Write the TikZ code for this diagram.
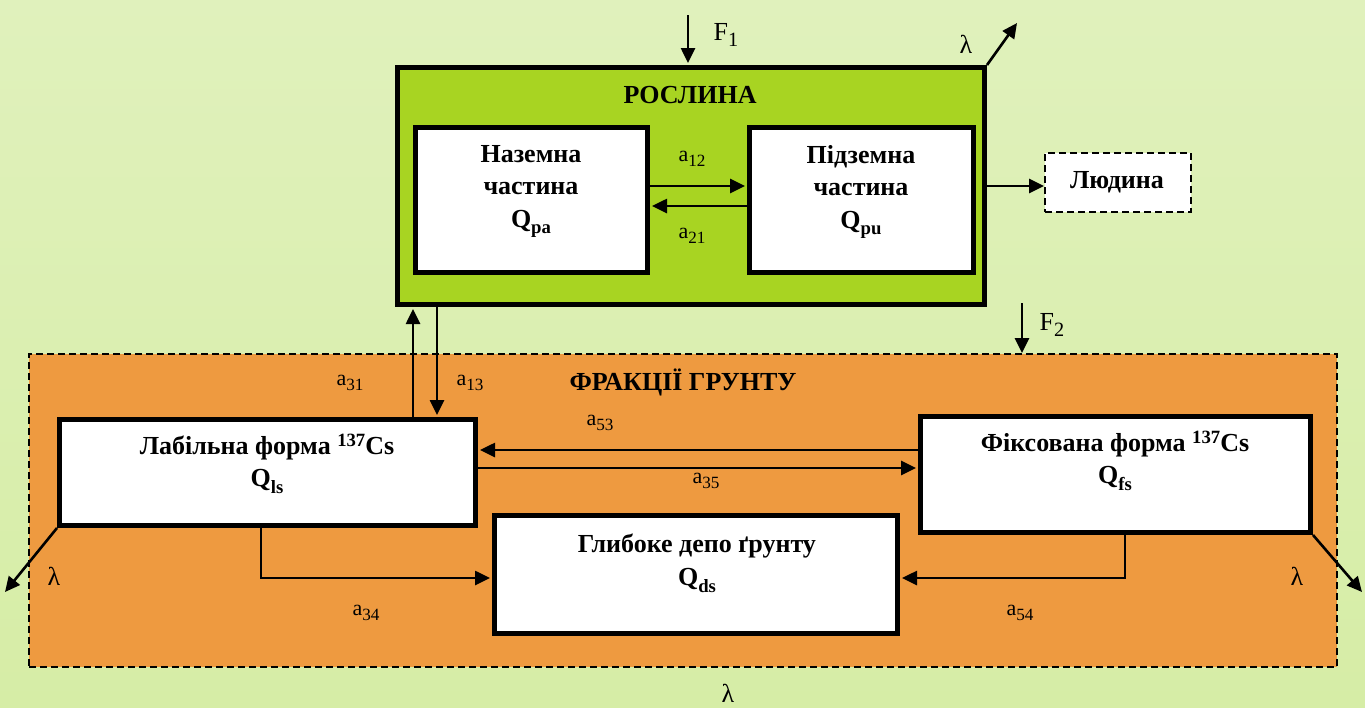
\documentclass[tikz,border=0pt]{standalone}
\usepackage{fontspec}
\setmainfont{Liberation Serif}
\usetikzlibrary{arrows.meta}
\definecolor{bgtop}{RGB}{224,241,188}
\definecolor{bgbot}{RGB}{214,237,166}
\definecolor{plantgreen}{RGB}{168,212,34}
\definecolor{soilorange}{RGB}{238,154,64}
\newcommand{\dn}[1]{\raisebox{-0.22em}{\scalebox{0.78}{#1}}}
\newcommand{\qdn}[1]{\raisebox{-0.25em}{\scalebox{0.72}{#1}}}
\newcommand{\up}[1]{\raisebox{0.32em}{\scalebox{0.72}{#1}}}
\begin{document}
\begin{tikzpicture}[x=1pt,y=-1pt,
  box/.style={draw, line width=5pt, fill=white, inner sep=0pt},
  dbox/.style={draw, dash pattern=on 7pt off 4pt, line width=1.8pt, inner sep=0pt},
  arr/.style={line width=2.6pt, -{Triangle[length=15pt,width=14pt]}},
  ttl/.style={font=\bfseries\fontsize{26}{32.5}\selectfont, align=center, inner sep=0pt},
  lbl/.style={font=\fontsize{22}{24}\selectfont, inner sep=0pt},
  big/.style={font=\fontsize{26}{28}\selectfont, inner sep=0pt}]
\useasboundingbox (0,0) rectangle (1365,707);
\shade[top color=bgtop, bottom color=bgbot] (0,0) rectangle (1365,707);

% plant
\node[box, fill=plantgreen, minimum width=587pt, minimum height=237pt] (plant) at (691,186) {};
\node[ttl, anchor=base] (plantt) at (690,103) {РОСЛИНА};
\node[box, minimum width=232pt, minimum height=145pt] (pa) at (531.5,200) {};
\node[box, minimum width=224pt, minimum height=145pt] (pu) at (861.5,200) {};
\node[ttl, anchor=north] (pat) at (531,145) {Наземна\\частина\\Q\qdn{pa}};
\node[ttl, anchor=north] (put) at (861,145) {Підземна\\частина\\Q\qdn{pu}};

\draw[arr, shorten >=2pt] ([yshift=14pt]pa.east) -- ([yshift=14pt]pu.west);
\draw[arr, shorten >=2pt] ([yshift=-6pt]pu.west) -- ([yshift=-6pt]pa.east);
\node[lbl] (l12) at (692,159) {a\dn{12}};
\node[lbl] (l21) at (692,236) {a\dn{21}};

% F1 and lambda
\coordinate (f1) at (688,15);
\draw[arr, shorten >=2pt] (f1) -- (f1 |- plant.north);
\node[big] (lf1) at (726,35) {F\dn{1}};
\coordinate (lam1) at (1017,23);
\draw[arr] (plant.north east) -- (lam1);
\node[big] (ll1) at (966,44) {λ};

% human
\node[dbox, fill=white, minimum width=146pt, minimum height=59pt] (lud) at (1118,182.5) {};
\node[ttl, anchor=base] (ludt) at (1117,188) {Людина};
\draw[arr] (plant.east) -- (plant.east -| lud.west);

% soil
\node[dbox, fill=soilorange, minimum width=1308pt, minimum height=313pt] (soil) at (683,510.5) {};
\node[ttl, anchor=base] (soilt) at (683,390) {ФРАКЦІЇ ГРУНТУ};
\coordinate (f2) at (1022,303);
\draw[arr] (f2) -- (f2 |- soil.north);
\node[big] (lf2) at (1052,325) {F\dn{2}};

\node[box, minimum width=416pt, minimum height=106pt] (lab) at (267.5,472.5) {};
\node[box, minimum width=390pt, minimum height=116pt] (fix) at (1115.5,474.5) {};
\node[box, minimum width=403pt, minimum height=118pt] (deep) at (696,574.5) {};
\node[ttl, anchor=north, font=\bfseries\fontsize{26}{32}\selectfont] (labt) at (267,434) {Лабільна форма \up{137}Cs\\Q\qdn{ls}};
\node[ttl, anchor=north, font=\bfseries\fontsize{26}{32}\selectfont] (fixt) at (1115,431) {Фіксована форма \up{137}Cs\\Q\qdn{fs}};
\node[ttl, anchor=north, font=\bfseries\fontsize{26}{33}\selectfont] (deept) at (697,534) {Глибоке депо ґрунту\\Q\qdn{ds}};

% plant <-> labile
\coordinate (c31) at (413,0);
\coordinate (c13) at (437,0);
\draw[arr, shorten >=2pt] (c31 |- lab.north) -- (c31 |- plant.south);
\draw[arr, shorten >=2pt] (c13 |- plant.south) -- (c13 |- lab.north);
\node[lbl] (l31) at (350,383) {a\dn{31}};
\node[lbl] (l13) at (470,383) {a\dn{13}};

% labile <-> fixed
\coordinate (c53) at (0,450);
\coordinate (c35) at (0,468);
\draw[arr, shorten >=2pt] (c53 -| fix.west) -- (c53 -| lab.east);
\draw[arr, shorten >=2pt] (c35 -| lab.east) -- (c35 -| fix.west);
\node[lbl] (l53) at (600,423) {a\dn{53}};
\node[lbl] (l35) at (706,481) {a\dn{35}};

% to deep
\coordinate (c34) at (261,578);
\coordinate (c54) at (1125,578);
\draw[arr, shorten >=2pt] (c34 |- lab.south) -- (c34) -- (c34 -| deep.west);
\draw[arr, shorten >=2pt] (c54 |- fix.south) -- (c54) -- (c54 -| deep.east);
\node[lbl] (l34) at (366,613) {a\dn{34}};
\node[lbl] (l54) at (1020,613) {a\dn{54}};

% lambda outflows
\coordinate (lamL) at (5,592);
\coordinate (lamR) at (1362,592);
\draw[arr] (lab.south west) -- (lamL);
\draw[arr] (fix.south east) -- (lamR);
\node[big] (llL) at (54,576) {λ};
\node[big] (llR) at (1297,576) {λ};
\node[big] (llB) at (728,693) {λ};
\end{tikzpicture}
\end{document}
